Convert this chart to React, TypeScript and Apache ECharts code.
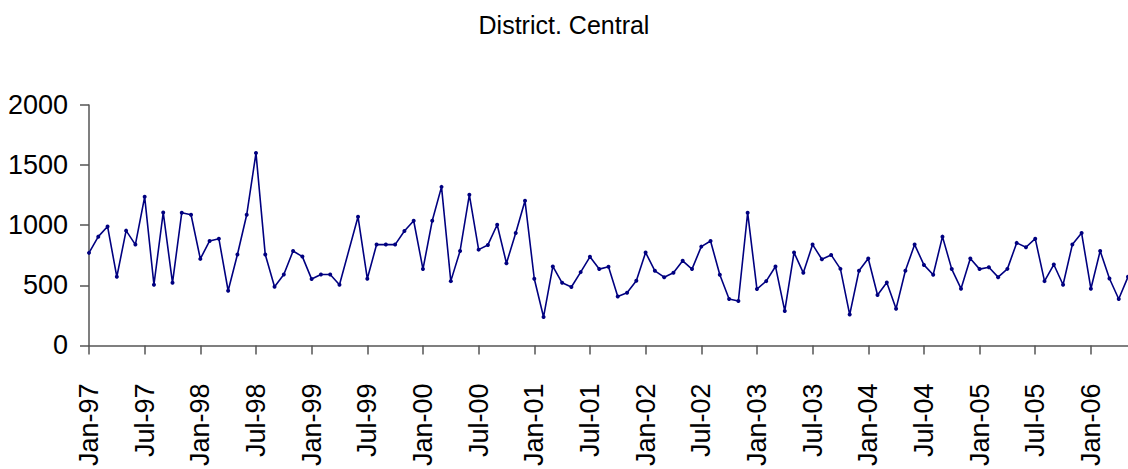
import React, { useEffect, useRef } from "react";
import * as echarts from "echarts";

const monthNames = ["Jan", "Feb", "Mar", "Apr", "May", "Jun", "Jul", "Aug", "Sep", "Oct", "Nov", "Dec"];
const years = ["97", "98", "99", "00", "01", "02", "03", "04", "05", "06"];

const values1997 = [770, 905, 990, 571, 955, 839, 1236, 505, 1106, 521, 1104, 1087];
const values1998 = [720, 869, 888, 455, 756, 1087, 1600, 756, 488, 590, 786, 739];
const values1999 = [552, 590, 590, 505, null, 1070, 555, 839, 839, 839, 952, 1037];
const values2000 = [635, 1037, 1319, 535, 786, 1253, 797, 836, 1004, 684, 935, 1203];
const values2001 = [555, 237, 657, 521, 486, 610, 737, 635, 654, 408, 439, 538];
const values2002 = [773, 621, 568, 604, 704, 635, 822, 869, 588, 386, 370, 1104];
const values2003 = [469, 535, 657, 287, 773, 604, 839, 717, 753, 637, 257, 621];
const values2004 = [723, 420, 524, 306, 621, 839, 670, 588, 905, 635, 472, 723];
const values2005 = [635, 651, 568, 637, 853, 817, 888, 535, 673, 505, 839, 935];
const values2006 = [472, 786, 557, 386, 571];

const seriesValues: (number | null)[] = [
  ...values1997, ...values1998, ...values1999, ...values2000, ...values2001,
  ...values2002, ...values2003, ...values2004, ...values2005, ...values2006,
];

const categories: string[] = [];
years.forEach((y) => monthNames.forEach((m) => categories.push(`${m}-${y}`)));
const usedCategories = categories.slice(0, seriesValues.length);

const FONT = "'Liberation Sans', Arial, sans-serif";

export default function App() {
  const ref = useRef<HTMLDivElement>(null);
  useEffect(() => {
    if (!ref.current) return;
    const chart = echarts.init(ref.current, null, { renderer: "svg" });
    chart.setOption({
      animation: false,
      backgroundColor: "#ffffff",
      title: {
        text: "District. Central",
        left: "center",
        top: 7,
        textStyle: { fontFamily: FONT, fontSize: 25, fontWeight: "normal", color: "#000" },
      },
      grid: { left: 89, right: 0, top: 105, bottom: 122, containLabel: false },
      xAxis: {
        type: "category",
        boundaryGap: false,
        data: usedCategories,
        axisLine: { lineStyle: { color: "#555", width: 1.5 } },
        axisTick: { show: true, interval: 5, length: 9, lineStyle: { color: "#555", width: 1.5 } },
        axisLabel: {
          interval: 5,
          rotate: 90,
          margin: 38,
          fontFamily: FONT,
          fontSize: 27,
          color: "#000",
        },
        splitLine: { show: false },
      },
      yAxis: {
        type: "value",
        min: 0,
        max: 2000,
        interval: 500,
        axisLine: { show: true, lineStyle: { color: "#555", width: 1.5 } },
        axisTick: { show: true, length: 9, lineStyle: { color: "#555", width: 1.5 } },
        axisLabel: {
          margin: 21,
          fontFamily: FONT,
          fontSize: 27,
          color: "#000",
          formatter: (v: number) => String(v),
        },
        splitLine: { show: false },
      },
      series: [
        {
          type: "line",
          data: seriesValues,
          connectNulls: true,
          symbol: "circle",
          symbolSize: 4,
          itemStyle: { color: "#000080" },
          lineStyle: { color: "#000080", width: 1.6 },
        },
      ],
    });
    return () => chart.dispose();
  }, []);
  return (
    <div
      ref={ref}
      style={{ position: "absolute", left: 0, top: 0, width: 1128, height: 469 }}
    />
  );
}
